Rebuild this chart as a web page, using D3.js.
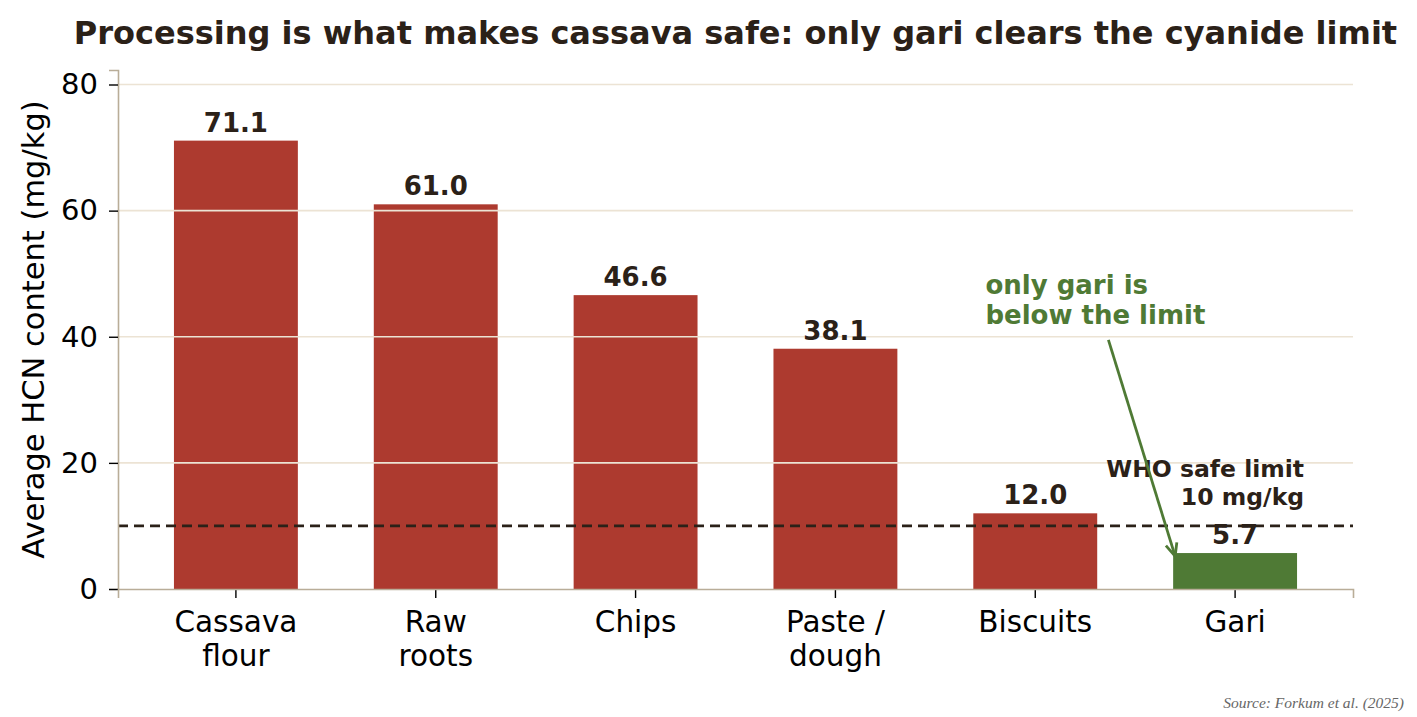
<!DOCTYPE html>
<html>
<head>
<meta charset="utf-8">
<script src="https://cdn.jsdelivr.net/npm/d3@7"></script>
<style>
  body { margin: 0; background: #fff; }
  svg { display: block; font-family: 'DejaVu Sans', sans-serif; }
</style>
</head>
<body>
<main></main>
<script>
// data
const categories = ['Cassava flour', 'Raw roots', 'Chips', 'Paste / dough', 'Biscuits', 'Gari'];
const categoryLines = [['Cassava', 'flour'], ['Raw', 'roots'], ['Chips'], ['Paste /', 'dough'], ['Biscuits'], ['Gari']];
const hcnValues = [71.1, 61.0, 46.6, 38.1, 12.0, 5.7];
const yTicks = [0, 20, 40, 60, 80];
const whoLimit = 10;

const RED = '#ad3a2f';
const GREEN = '#4f7a35';
const INK = '#2b2118';

const W = 1417;
const H = 717;
const margin = { top: 70, right: 64, bottom: 128, left: 118 };
const width = W - margin.left - margin.right;
const height = H - margin.top - margin.bottom;

const $svg = d3.select('main').append('svg')
  .attr('width', W)
  .attr('height', H);

const $g = $svg.append('g')
  .attr('transform', `translate(${margin.left}, ${margin.top})`);

const scaleX = d3.scaleBand()
  .domain(categories)
  .range([0, width])
  .paddingInner(0.38)
  .paddingOuter(0.28);

const scaleY = d3.scaleLinear()
  .domain([0, 82.3])
  .range([height, 0]);

const mid = c => scaleX(c) + scaleX.bandwidth() / 2;

// bars
$g.append('g').selectAll('rect')
  .data(categories)
  .join('rect')
  .attr('x', d => scaleX(d))
  .attr('y', (d, i) => scaleY(hcnValues[i]))
  .attr('width', scaleX.bandwidth())
  .attr('height', (d, i) => scaleY(0) - scaleY(hcnValues[i]))
  .attr('fill', (d, i) => hcnValues[i] < whoLimit ? GREEN : RED);

// grid on top of bars (as in the original)
$g.append('g').selectAll('line')
  .data(yTicks.filter(t => t > 0))
  .join('line')
  .attr('x1', 0)
  .attr('x2', width)
  .attr('y1', d => scaleY(d))
  .attr('y2', d => scaleY(d))
  .attr('stroke', '#ece3d4')
  .attr('stroke-width', 1.6);

// value labels
$g.append('g').selectAll('text')
  .data(categories)
  .join('text')
  .attr('x', d => mid(d))
  .attr('y', (d, i) => scaleY(hcnValues[i]) - 9)
  .attr('text-anchor', 'middle')
  .attr('font-size', 26)
  .attr('font-weight', 'bold')
  .attr('fill', INK)
  .text((d, i) => hcnValues[i].toFixed(1));

// WHO limit
$g.append('line')
  .attr('x1', 0)
  .attr('x2', width)
  .attr('y1', scaleY(whoLimit))
  .attr('y2', scaleY(whoLimit))
  .attr('stroke', INK)
  .attr('stroke-width', 2.8)
  .attr('stroke-dasharray', '10,6');

const whoX = mid('Gari') + 69;
$g.append('text')
  .attr('x', whoX)
  .attr('y', scaleY(17.8))
  .attr('text-anchor', 'end')
  .attr('font-size', 23.5)
  .attr('font-weight', 'bold')
  .attr('fill', INK)
  .selectAll('tspan')
  .data(['WHO safe limit', '10 mg/kg'])
  .join('tspan')
  .attr('x', whoX)
  .attr('dy', (d, i) => i ? 28 : 0)
  .text(d => d);

// axes
const axisY = d3.axisLeft(scaleY).tickValues(yTicks).tickSize(9).tickPadding(11);
const $axisY = $g.append('g').call(axisY);
$axisY.select('.domain').attr('stroke', '#b9ad98').attr('stroke-width', 1.6);
$axisY.selectAll('.tick line').attr('stroke', '#000').attr('stroke-width', 1.4);
$axisY.selectAll('.tick text')
  .attr('font-size', 29)
  .attr('font-family', 'DejaVu Sans, sans-serif')
  .attr('fill', '#000');

const axisX = d3.axisBottom(scaleX).tickSize(9).tickFormat('');
const $axisX = $g.append('g')
  .attr('transform', `translate(0, ${height})`)
  .call(axisX);
$axisX.select('.domain').attr('stroke', '#b9ad98').attr('stroke-width', 1.6);
$axisX.selectAll('.tick line').attr('stroke', '#000').attr('stroke-width', 1.4);
$axisX.selectAll('.tick text').remove();
$axisX.selectAll('.tick')
  .append('text')
  .attr('text-anchor', 'middle')
  .attr('font-size', 29.5)
  .attr('font-family', 'DejaVu Sans, sans-serif')
  .attr('fill', '#000')
  .selectAll('tspan')
  .data(d => categoryLines[categories.indexOf(d)])
  .join('tspan')
  .attr('x', 0)
  .attr('y', (d, i) => 43 + i * 34)
  .text(d => d);

$axisX.select('.domain').raise();

// annotation arrow
const arrowFrom = [mid('Paste / dough') + 273, scaleY(39.5)];
const arrowTo = [scaleX('Gari') + 2, scaleY(5.2)];
$g.append('line')
  .attr('x1', arrowFrom[0])
  .attr('y1', arrowFrom[1])
  .attr('x2', arrowTo[0])
  .attr('y2', arrowTo[1])
  .attr('stroke', GREEN)
  .attr('stroke-width', 2.8);
$g.append('path')
  .attr('d', () => {
    const a = Math.atan2(arrowTo[1] - arrowFrom[1], arrowTo[0] - arrowFrom[0]);
    const L = 14;
    const s = 0.42;
    const p1 = [arrowTo[0] - L * Math.cos(a - s), arrowTo[1] - L * Math.sin(a - s)];
    const p2 = [arrowTo[0] - L * Math.cos(a + s), arrowTo[1] - L * Math.sin(a + s)];
    return `M${p1}L${arrowTo}L${p2}`;
  })
  .attr('fill', 'none')
  .attr('stroke', GREEN)
  .attr('stroke-width', 2.8);

const noteX = mid('Paste / dough') + 150;
$g.append('text')
  .attr('x', noteX)
  .attr('y', scaleY(46.8))
  .attr('font-size', 26)
  .attr('font-weight', 'bold')
  .attr('fill', GREEN)
  .selectAll('tspan')
  .data(['only gari is', 'below the limit'])
  .join('tspan')
  .attr('x', noteX)
  .attr('dy', (d, i) => i ? 30 : 0)
  .text(d => d);

// y label
$svg.append('text')
  .attr('transform', `translate(44, ${margin.top + height / 2}) rotate(-90)`)
  .attr('text-anchor', 'middle')
  .attr('font-size', 30.5)
  .attr('fill', '#000')
  .text('Average HCN content (mg/kg)');

// title
$svg.append('text')
  .attr('x', 735.5)
  .attr('y', 44)
  .attr('text-anchor', 'middle')
  .attr('font-size', 32)
  .attr('font-weight', 'bold')
  .attr('fill', INK)
  .text('Processing is what makes cassava safe: only gari clears the cyanide limit');

// source
$svg.append('text')
  .attr('x', 1404)
  .attr('y', 708)
  .attr('text-anchor', 'end')
  .attr('font-size', 15.5)
  .attr('font-style', 'italic')
  .attr('font-family', 'Liberation Serif, serif')
  .attr('fill', '#666')
  .text('Source: Forkum et al. (2025)');
</script>
</body>
</html>
